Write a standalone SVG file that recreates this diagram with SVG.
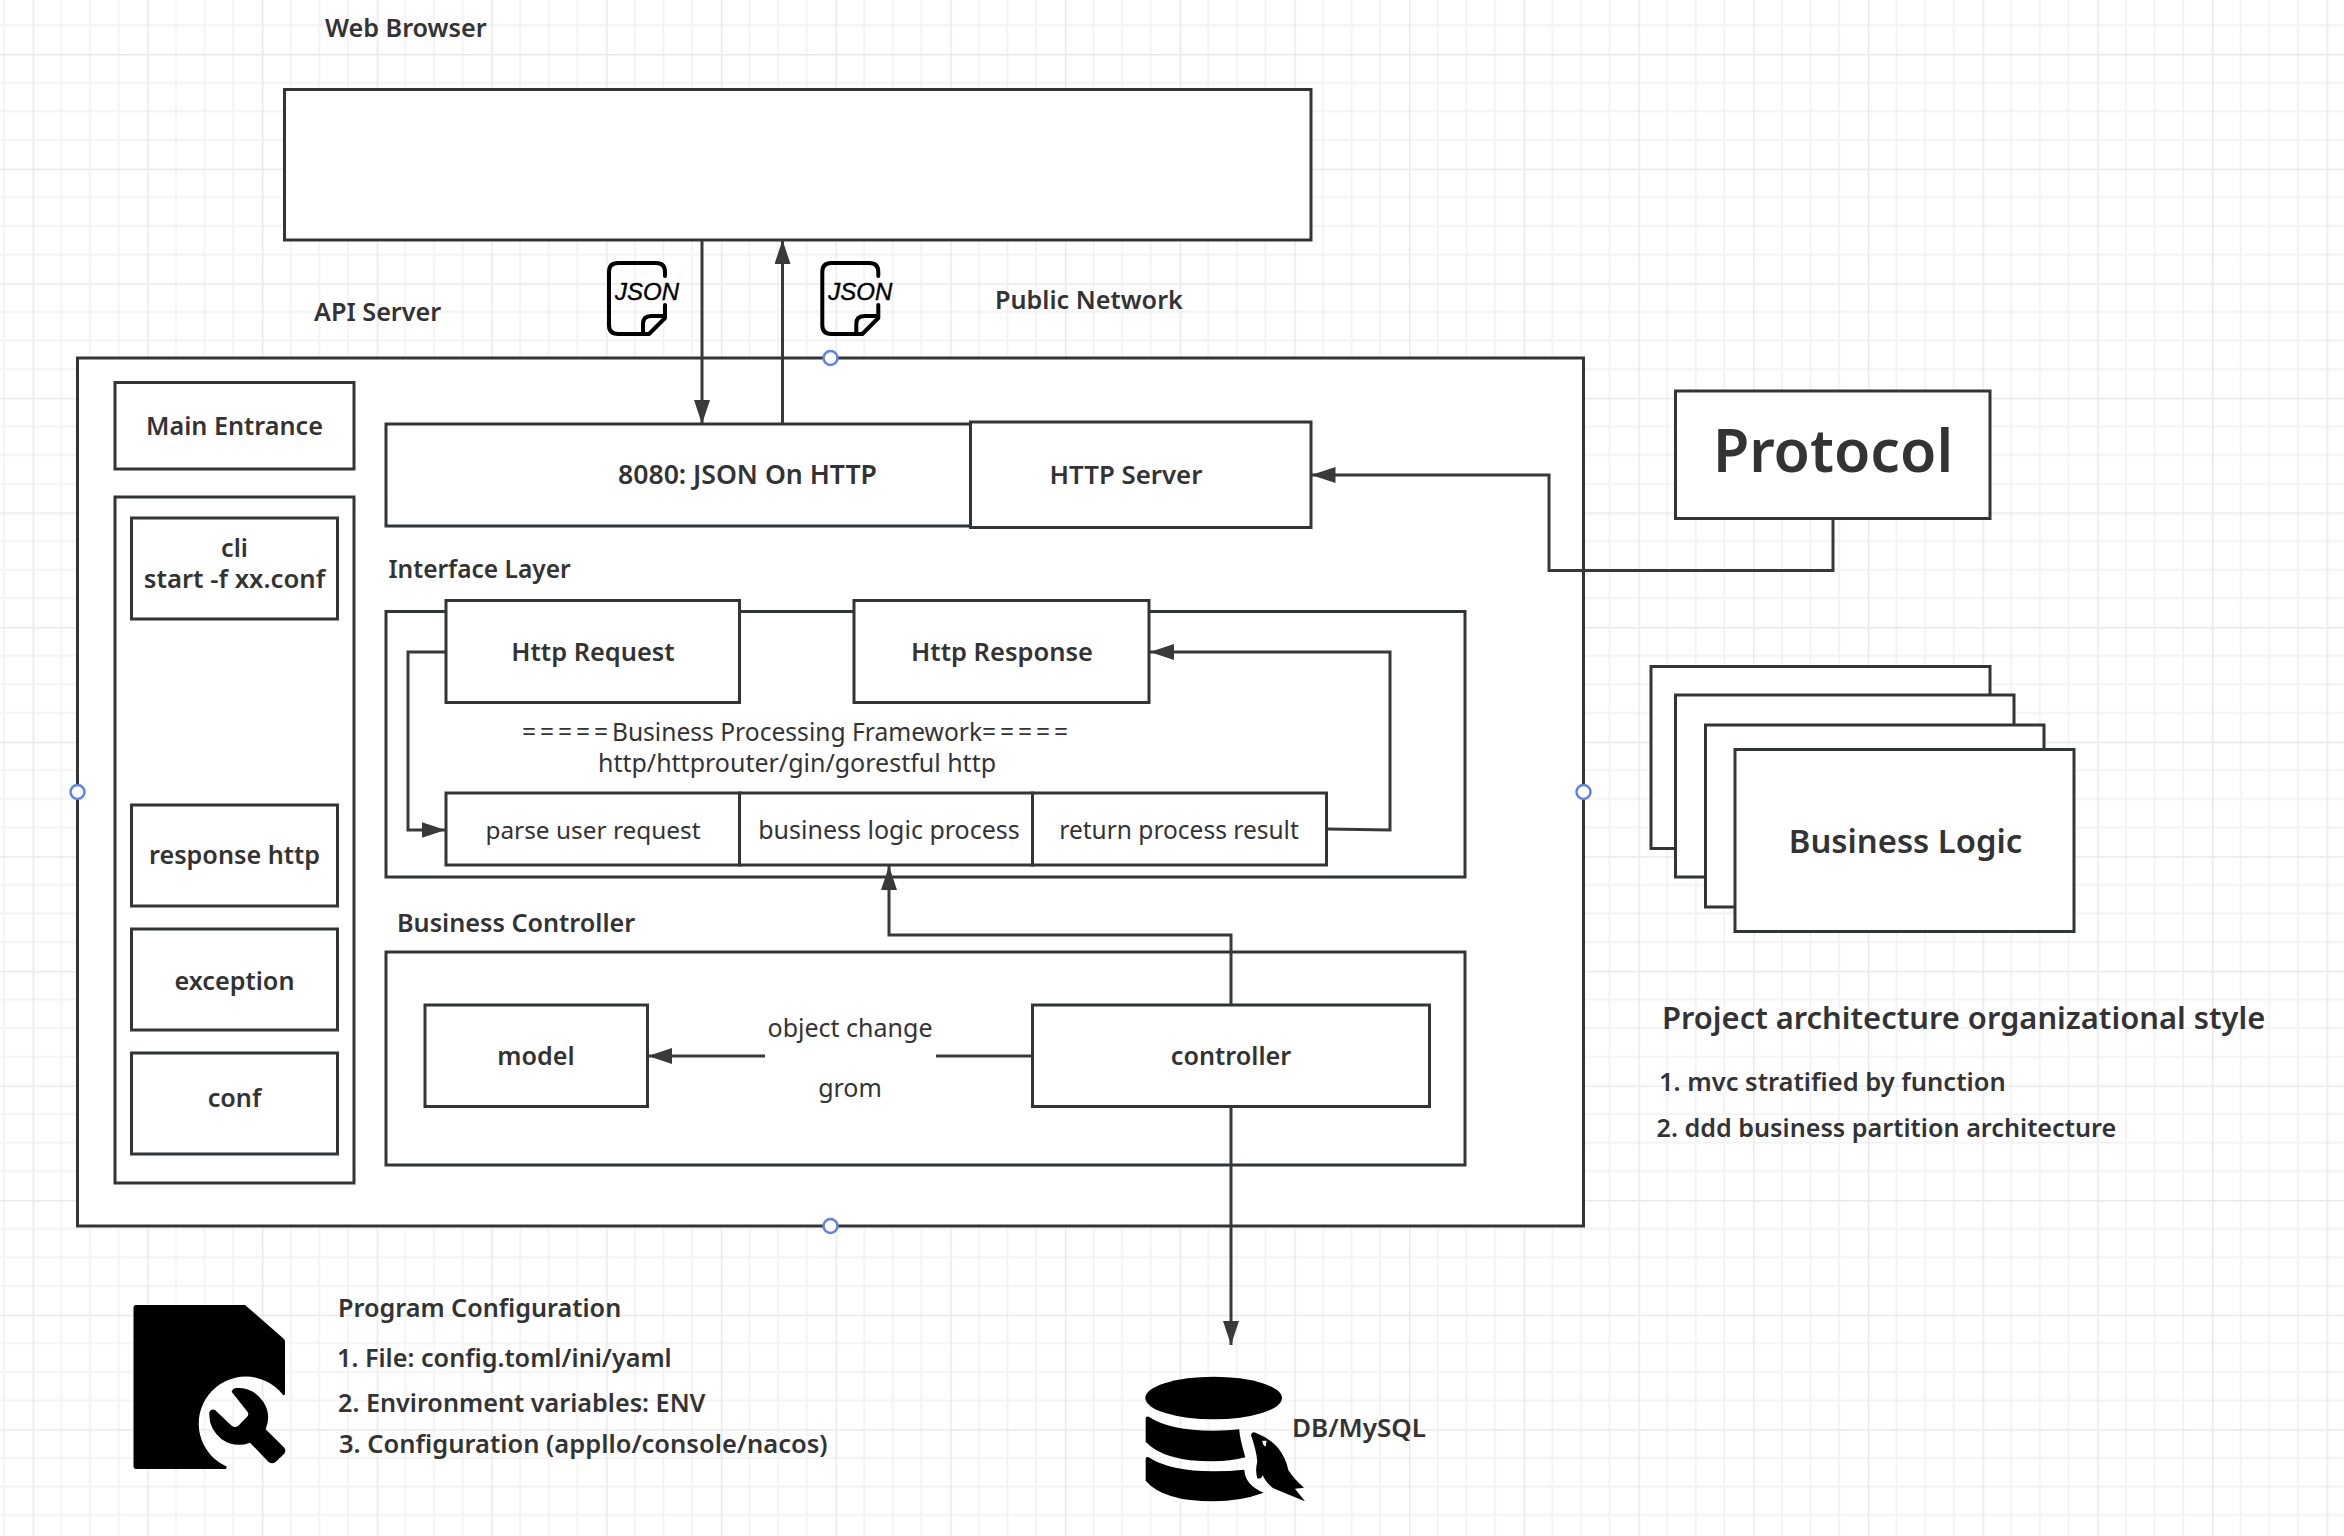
<svg xmlns="http://www.w3.org/2000/svg" width="2344" height="1536" viewBox="0 0 2344 1536">
<style>
rect.b{fill:#fff;stroke:#323538;stroke-width:3}
.c{fill:none;stroke:#38393b;stroke-width:3}
text{font-family:"Noto Sans","Liberation Sans",sans-serif;fill:#333;font-size:25.2px;font-weight:600}
.m{text-anchor:middle}
.n{font-weight:400}
.h{fill:#fff;stroke:#5b82e6;stroke-width:2.5}
.j{font-family:"Liberation Sans",Arial,sans-serif;font-style:italic;font-weight:400;fill:#000;stroke:#000;stroke-width:.4;font-size:24px}
.eq{letter-spacing:3.9px}
</style>
<defs>
<pattern id="grid" width="114.7" height="114.6" patternUnits="userSpaceOnUse" x="32.6" y="54">
<path d="M28.7 0V114.6M57.3 0V114.6M86 0V114.6M0 28.65H114.7M0 57.3H114.7M0 86H114.7" fill="none" stroke="#f3f3f3" stroke-width="2"/>
<path d="M0 0V114.6M0 0H114.7" fill="none" stroke="#e9e9e9" stroke-width="3"/>
</pattern>
<marker id="arrow" markerUnits="userSpaceOnUse" markerWidth="24" markerHeight="16" refX="24" refY="8" orient="auto"><path d="M0 0L24 8L0 16Z" fill="#38393b"/></marker>
<path id="jsonDoc" d="M665 276V272Q665 263 656 263H618Q609 263 609 272V325Q609 334 618 334H649L665 318V305M643 334V324Q643 316 651 316H665" fill="none" stroke="#000" stroke-width="4" stroke-linecap="round" stroke-linejoin="round"/>
</defs>
<rect width="2344" height="1536" fill="#fff"/>
<rect width="2344" height="1536" fill="url(#grid)"/>

<g id="web-browser"><rect class="b" x="284.5" y="89.5" width="1026.5" height="150.5"/><text x="325" y="37">Web Browser</text></g>
<g id="api-server"><rect class="b" x="77.5" y="358" width="1506" height="868"/><text x="314" y="321">API Server</text></g>
<g id="public-network"><text x="995" y="309">Public Network</text></g>
<g id="left-column"><rect class="b" x="115" y="497" width="239" height="686"/></g>
<g id="interface-layer"><rect class="b" x="386" y="611.5" width="1079" height="265.5"/><text x="388.500" y="578" style="font-size:24.500px">Interface Layer</text></g>
<g id="business-controller"><rect class="b" x="386" y="952" width="1079" height="213"/><text x="397" y="932">Business Controller</text></g>

<g id="connectors">
<path class="c" d="M702 240V424" marker-end="url(#arrow)"/>
<path class="c" d="M782.500 424V240" marker-end="url(#arrow)"/>
<path class="c" d="M1833 519V570.500H1549V475H1311.500" marker-end="url(#arrow)"/>
<path class="c" d="M446 652H408V830H445.500" marker-end="url(#arrow)"/>
<path class="c" d="M1327 829L1390 830V652H1150" marker-end="url(#arrow)"/>
<path class="c" d="M1231 1005V935H889V866" marker-end="url(#arrow)"/>
<path class="c" d="M1231 1107V1345" marker-end="url(#arrow)"/>
<path class="c" d="M765 1056H648" marker-end="url(#arrow)"/>
<path class="c" d="M1032 1056H936"/>
</g>

<g id="main-entrance"><rect class="b" x="115" y="382.500" width="239" height="86.500"/><text class="m" x="234.500" y="435">Main Entrance</text></g>
<g id="cli"><rect class="b" x="131.500" y="518" width="206" height="101"/><text class="m" x="234.500" y="557">cli</text><text class="m" x="234.500" y="588" style="font-size:25.700px">start -f xx.conf</text></g>
<g id="response-http"><rect class="b" x="131.500" y="805" width="206" height="101"/><text class="m" x="234.500" y="864">response http</text></g>
<g id="exception"><rect class="b" x="131.500" y="929" width="206" height="101"/><text class="m" x="234.500" y="990">exception</text></g>
<g id="conf"><rect class="b" x="131.500" y="1053" width="206" height="101"/><text class="m" x="234.500" y="1107">conf</text></g>
<g id="json-on-http"><rect class="b" x="386" y="424" width="585" height="102"/><text x="618" y="484" style="font-size:26.600px">8080: JSON On HTTP</text></g>
<g id="http-server"><rect class="b" x="970.500" y="422" width="340.500" height="105.500"/><text class="m" x="1126" y="484" style="font-size:25.800px">HTTP Server</text></g>
<g id="http-request"><rect class="b" x="446" y="600.500" width="293.500" height="102"/><text class="m" x="593" y="661" style="font-size:25.400px">Http Request</text></g>
<g id="http-response"><rect class="b" x="854" y="600.500" width="295" height="102"/><text class="m" x="1002" y="661" style="font-size:25.500px">Http Response</text></g>
<g id="framework"><text class="m n" x="797" y="741" style="font-size:24.600px"><tspan class="eq">=====</tspan>Business Processing Framework<tspan class="eq">=====</tspan></text><text class="m n" x="797" y="771.500" style="font-size:25px">http/httprouter/gin/gorestful http</text></g>
<g id="parse-user-request"><rect class="b" x="446" y="793" width="293.500" height="72"/><text class="m n" x="593" y="839" style="font-size:24.400px">parse user request</text></g>
<g id="business-logic-process"><rect class="b" x="739.500" y="793" width="293" height="72"/><text class="m n" x="889" y="839" style="font-size:25px">business logic process</text></g>
<g id="return-process-result"><rect class="b" x="1032.500" y="793" width="294" height="72"/><text class="m n" x="1179" y="839" style="font-size:24.500px">return process result</text></g>
<g id="model"><rect class="b" x="425" y="1005" width="222.500" height="101.500"/><text class="m" x="536" y="1065">model</text></g>
<g id="controller"><rect class="b" x="1032.500" y="1005" width="397" height="101.500"/><text class="m" x="1231" y="1065">controller</text></g>
<g id="orm-labels"><text class="m n" x="850" y="1037" style="font-size:25px">object change</text><text class="m n" x="850" y="1097" style="font-size:25px">grom</text></g>

<g id="json-in"><use href="#jsonDoc"/><text class="j" x="615" y="300">JSON</text></g>
<g id="json-out"><use href="#jsonDoc" x="213.300"/><text class="j" x="828.300" y="300">JSON</text></g>

<g id="protocol"><rect class="b" x="1675.500" y="391" width="314.500" height="127.500"/><text class="m" x="1833" y="472" style="font-size:59px">Protocol</text></g>
<g id="business-logic">
<rect class="b" x="1651" y="666.500" width="339" height="182"/>
<rect class="b" x="1675.500" y="695" width="338.500" height="182"/>
<rect class="b" x="1705.500" y="725" width="338.500" height="182"/>
<rect class="b" x="1735" y="749.500" width="339" height="182"/>
<text class="m" x="1905.500" y="853" style="font-size:32.800px">Business Logic</text>
</g>
<g id="architecture-notes">
<text x="1662" y="1029" style="font-size:30.900px">Project architecture organizational style</text>
<text x="1659" y="1091" style="font-size:25.500px">1. mvc stratified by function</text>
<text x="1656.500" y="1137" style="font-size:25.200px">2. ddd business partition architecture</text>
</g>
<g id="config-icon">
<path d="M136 1305H245L284 1339Q285 1340 285 1342V1393Q285 1396 283 1395A47 47 0 1 0 226.500 1466.500Q227 1469 225 1469H136Q133.500 1469 133.500 1466V1308Q133.500 1305 136 1305Z" fill="#000"/>
<path transform="translate(100 1280) scale(.3333)" d="M395 335Q398 325 410 324Q460 322 490 365Q515 405 497 448L553 503Q560 512 552 522L527 546Q516 554 505 545L450 488Q405 505 365 478Q325 445 328 398Q332 385 345 390L395 437Q405 445 415 437L440 412Q450 402 440 392Z" fill="#000"/>
</g>
<g id="config-text">
<text x="338" y="1317">Program Configuration</text>
<text x="337" y="1367">1. File: config.toml/ini/yaml</text>
<text x="338" y="1412">2. Environment variables: ENV</text>
<text x="339" y="1453" style="font-size:25.500px">3. Configuration (appllo/console/nacos)</text>
</g>
<g id="db-mysql">
<g transform="translate(1100 1320) scale(.3333)" fill="#000">
<ellipse cx="341" cy="234" rx="205" ry="64"/>
<path d="M137 296Q137 288 146 290Q210 332 340 332Q385 332 418 328Q418 350 436 412Q390 424 340 424Q190 424 137 365Z"/>
<path d="M137 418Q137 408 146 412Q210 454 340 454Q390 454 433 449Q435 495 491 518Q420 544 340 544Q190 544 137 482Z"/>
<path fill-rule="evenodd" d="M453 345Q456 332 470 340Q510 355 535 385Q558 415 565 450Q580 475 612 503L585 506L615 544Q560 522 520 505Q495 485 488 465Q485 478 472 475Q465 450 472 425Q470 395 453 345ZM487 362L500 362L497 380Q488 375 487 362Z"/>
</g>
<text x="1292" y="1437" style="font-size:26px">DB/MySQL</text>
</g>
<g id="handles">
<circle class="h" cx="830.500" cy="358" r="7"/><circle class="h" cx="77.500" cy="792" r="7"/><circle class="h" cx="1583.500" cy="792" r="7"/><circle class="h" cx="830.500" cy="1226" r="7"/>
</g>
</svg>
